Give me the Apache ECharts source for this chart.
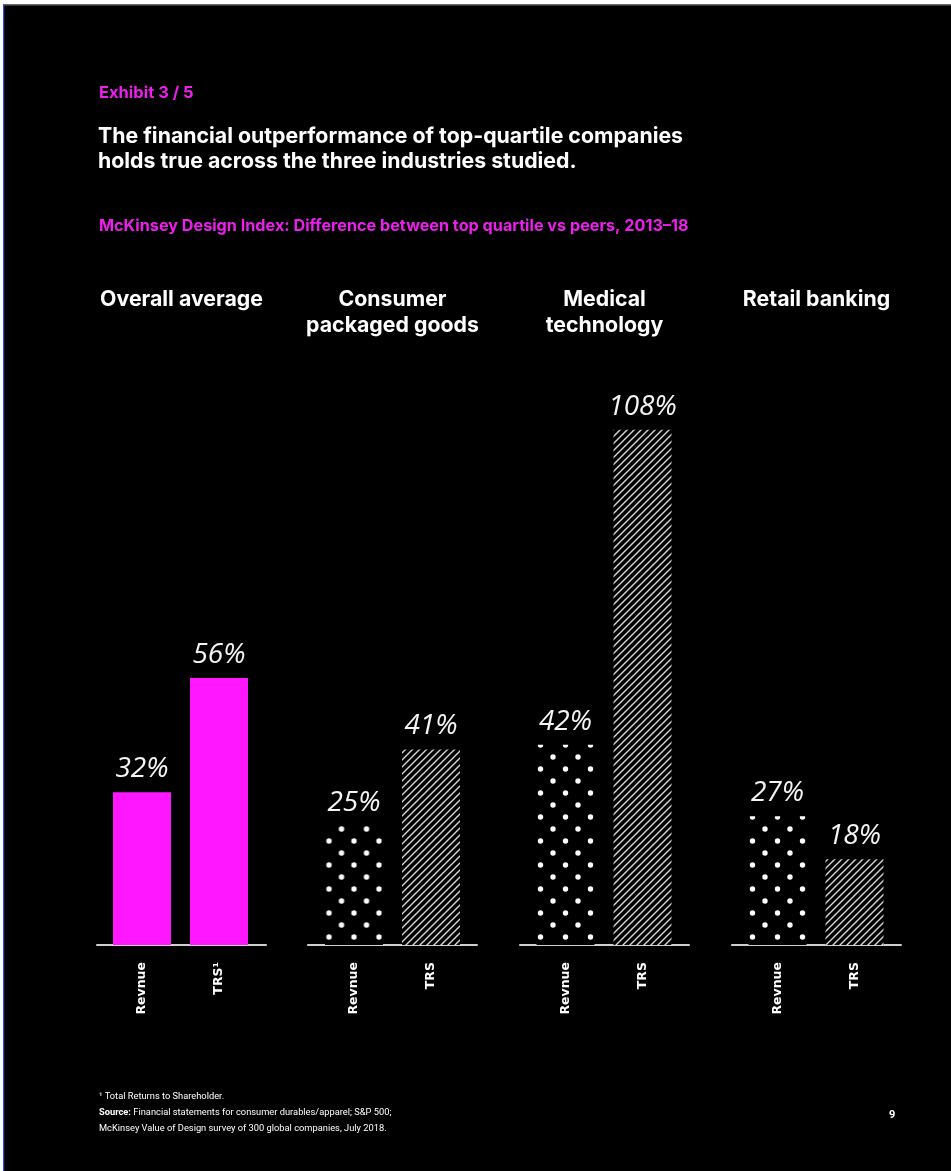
<!DOCTYPE html>
<html><head><meta charset="utf-8">
<script src="https://cdn.jsdelivr.net/npm/echarts@6/dist/echarts.min.js"></script>
<style>html,body{margin:0;padding:0;background:#fff}#c{width:951px;height:1171px}</style>
</head><body><div id="c"></div>
<script>
const panelNames = ['Overall average', 'Consumer\npackaged goods', 'Medical\ntechnology', 'Retail banking'];
const measureLabels = [['Revnue', 'TRS¹'], ['Revnue', 'TRS'], ['Revnue', 'TRS'], ['Revnue', 'TRS']];
const revenueValues = [32, 25, 42, 27];
const trsValues = [56, 41, 108, 18];

const MAGENTA = '#FF17FF';
const TEXT_MAGENTA = '#EC1FEC';

function dotCanvas() {
  const c = document.createElement('canvas');
  c.width = 25; c.height = 24;
  const g = c.getContext('2d');
  g.fillStyle = '#000'; g.fillRect(0, 0, 25, 24);
  g.fillStyle = '#fff';
  [[12.5, 18], [0, 6], [25, 6]].forEach(p => { g.beginPath(); g.arc(p[0], p[1], 2.7, 0, Math.PI * 2); g.fill(); });
  return c;
}
function hatchCanvas() {
  const s = 7;
  const c = document.createElement('canvas');
  c.width = s; c.height = s;
  const g = c.getContext('2d');
  g.fillStyle = '#000'; g.fillRect(0, 0, s, s);
  g.strokeStyle = '#d8d8d8'; g.lineWidth = 1.4;
  g.beginPath();
  g.moveTo(-1, s + 1); g.lineTo(s + 1, -1);
  g.moveTo(-1, 1); g.lineTo(1, -1);
  g.moveTo(s - 1, s + 1); g.lineTo(s + 1, s - 1);
  g.stroke();
  return c;
}
const dotImg = dotCanvas();
const hatchImg = hatchCanvas();

const barLefts = [103.5, 315.5, 527, 739];
const barWidthGrid = 154;
const baseLefts = [97, 308, 520, 732];
const baseWidth = 169;
const panelCenters = baseLefts.map(l => l + baseWidth / 2);
const GRID_BOTTOM = 226, GRID_TOP = 372.6;

const grids = [], xAxes = [], yAxes = [], series = [];
panelNames.forEach((name, i) => {
  grids.push({ left: barLefts[i], width: barWidthGrid, top: GRID_TOP, bottom: GRID_BOTTOM });
  xAxes.push({
    type: 'category', gridIndex: i, data: measureLabels[i],
    axisLine: { show: false }, axisTick: { show: false },
    axisLabel: { rotate: 90, margin: 17, color: '#fff', fontFamily: 'DejaVu Sans', fontWeight: 'bold', fontSize: 12.5 }
  });
  yAxes.push({ type: 'value', gridIndex: i, min: 0, max: 120, show: false, splitLine: { show: false } });
  const center1 = barLefts[i] + barWidthGrid / 4;
  const revStyle = i === 0 ? { color: MAGENTA } :
    { color: { image: dotImg, repeat: 'repeat', x: center1 - 12.5, y: 919 } };
  const trsStyle = i === 0 ? { color: MAGENTA } :
    { color: { image: hatchImg, repeat: 'repeat', x: 0, y: 0 } };
  series.push({
    type: 'bar', xAxisIndex: i, yAxisIndex: i, barWidth: 58,
    data: [
      { value: revenueValues[i], itemStyle: revStyle },
      { value: trsValues[i], itemStyle: trsStyle }
    ],
    label: {
      show: true, position: 'top', distance: 9, formatter: '{c}%',
      color: '#f4f4f4', fontFamily: 'Open Sans', fontStyle: 'italic', fontSize: 28, fontWeight: 400
    },
    silent: true
  });
});
panelNames.forEach((name, i) => {
  const gi = grids.length;
  grids.push({ left: baseLefts[i], width: baseWidth, top: GRID_TOP, bottom: GRID_BOTTOM });
  xAxes.push({
    type: 'category', gridIndex: gi, data: ['', ''],
    axisLine: { show: true, lineStyle: { color: '#cfcfcf', width: 2 } },
    axisTick: { show: false }, axisLabel: { show: false }
  });
  yAxes.push({ type: 'value', gridIndex: gi, min: 0, max: 120, show: false, splitLine: { show: false } });
});

const graphics = [
  { type: 'rect', shape: { x: 0, y: 0, width: 951, height: 4 }, style: { fill: '#fff' }, silent: true },
  { type: 'rect', shape: { x: 0, y: 0, width: 3, height: 1171 }, style: { fill: '#fff' }, silent: true },
  { type: 'rect', shape: { x: 3, y: 4, width: 948, height: 1.5 }, style: { fill: '#6a6a6a' }, silent: true },
  { type: 'rect', shape: { x: 3, y: 4, width: 1.2, height: 1167 }, style: { fill: '#2b4dff' }, silent: true },
  { type: 'text', left: 99, top: 85, style: { text: 'Exhibit 3 / 5', fill: TEXT_MAGENTA, font: 'bold 16.5px Inter' } },
  { type: 'text', left: 98, top: 124, style: { text: 'The financial outperformance of top-quartile companies\nholds true across the three industries studied.', fill: '#fff', font: 'bold 21.3px Inter', lineHeight: 25 } },
  { type: 'text', left: 99, top: 218, style: { text: 'McKinsey Design Index: Difference between top quartile vs peers, 2013–18', fill: TEXT_MAGENTA, font: 'bold 16.2px Inter' } },
  { type: 'text', left: 99, top: 1089, style: {
      text: '¹ Total Returns to Shareholder.\n{b|Source:} Financial statements for consumer durables/apparel; S&P 500;\nMcKinsey Value of Design survey of 300 global companies, July 2018.',
      fill: '#fff', font: '9.3px Roboto', lineHeight: 16,
      rich: { b: { fontWeight: 'bold', fontSize: 9.3, fontFamily: 'Roboto', fill: '#fff' } } } },
  { type: 'text', left: 889, top: 1110, style: { text: '9', fill: '#fff', font: 'bold 11px Roboto' } }
];
panelNames.forEach((name, i) => {
  graphics.push({ type: 'text', x: panelCenters[i], y: 287, style: {
    text: name, fill: '#fff', font: 'bold 21.3px Inter', lineHeight: 26, textAlign: 'center', textVerticalAlign: 'top' } });
});

const chart = echarts.init(document.getElementById('c'), null, { renderer: 'canvas' });
chart.setOption({
  backgroundColor: '#000',
  animation: false,
  grid: grids, xAxis: xAxes, yAxis: yAxes, series: series, graphic: graphics
});
</script></body></html>
